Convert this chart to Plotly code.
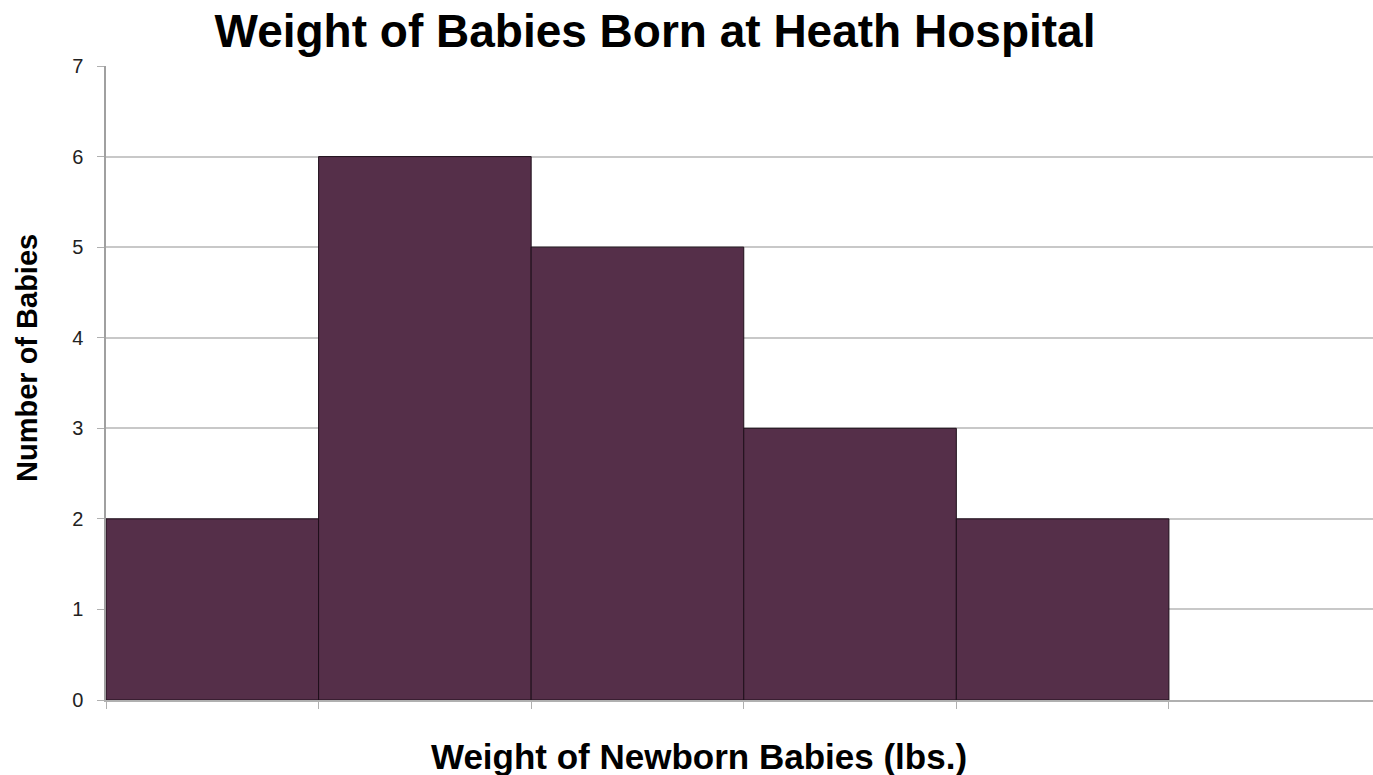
import plotly.graph_objects as go

bins = ["bin1", "bin2", "bin3", "bin4", "bin5"]
counts = [2, 6, 5, 3, 2]
positions = list(range(len(bins)))

title_text = "Weight of Babies Born at Heath Hospital"
x_title = "Weight of Newborn Babies (lbs.)"
y_title = "Number of Babies"

fig = go.Figure(go.Bar(
    x=positions, y=counts, width=1,
    marker=dict(color="#552f49", line=dict(color="#1e0f1a", width=1)),
    hoverinfo="y"
))

fig.update_layout(
    width=1373, height=775,
    margin=dict(l=106, r=0, t=66, b=75),
    paper_bgcolor="white", plot_bgcolor="white",
    showlegend=False,
    title=dict(text=f"<b>{title_text}</b>",
               x=655/1373, xref="container", xanchor="center",
               y=1-31/775, yref="container", yanchor="middle",
               font=dict(family="Liberation Sans, Arial", size=46, color="black")),
    font=dict(family="Liberation Sans, Arial", color="black"),
    annotations=[
        dict(text=f"<b>{x_title}</b>", xref="paper", yref="paper",
             x=(699-106)/1267, y=-(757-700)/634, xanchor="center", yanchor="middle",
             showarrow=False, font=dict(size=35, color="black")),
        dict(text=f"<b>{y_title}</b>", xref="paper", yref="paper",
             x=-(106-27)/1267, y=(700-358)/634, xanchor="center", yanchor="middle",
             textangle=-90, showarrow=False, font=dict(size=29, color="black")),
    ],
)

fig.update_xaxes(
    range=[-0.5, 5.46],
    tickvals=[i - 0.5 for i in range(len(bins) + 1)],
    ticktext=[""] * (len(bins) + 1),
    ticks="outside", ticklen=7, tickcolor="#b0b0b0",
    showgrid=False, zeroline=False,
    showline=True, linecolor="#b0b0b0", linewidth=1.5,
)
fig.update_yaxes(
    range=[0, 7], dtick=1,
    ticks="outside", ticklen=7, tickcolor="#b0b0b0",
    ticklabelstandoff=10,
    tickfont=dict(size=20, color="#222"),
    showgrid=True, gridcolor="#c8c8c8", gridwidth=1.5,
    zeroline=False,
    showline=True, linecolor="#a0a0a0", linewidth=1.5,
)

fig.write_html("out.html", config={"displayModeBar": False},
               post_script="document.body.style.margin='0px';document.body.style.overflow='hidden';")
